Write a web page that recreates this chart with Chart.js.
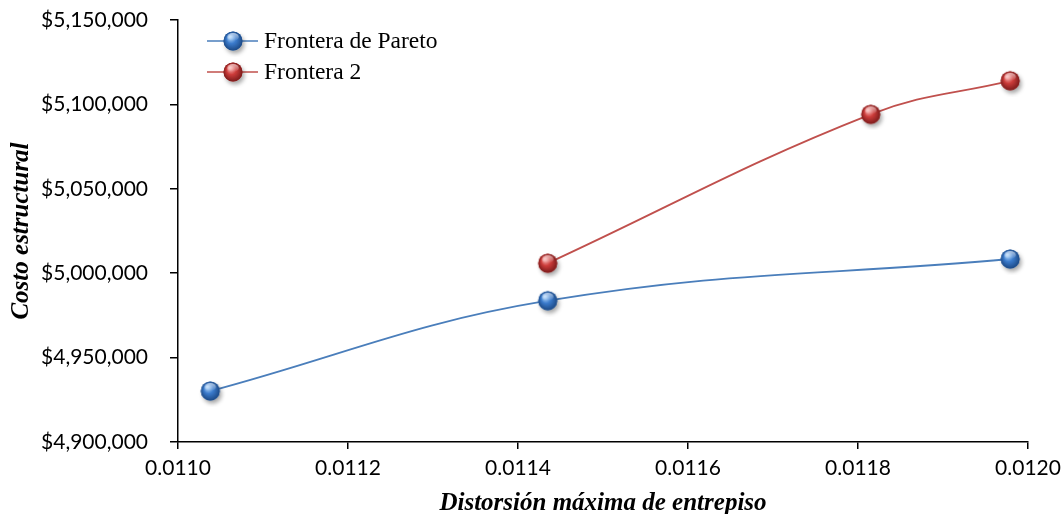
<!DOCTYPE html>
<html>
<head>
<meta charset="utf-8">
<script src="https://cdn.jsdelivr.net/npm/chart.js@4.4.1/dist/chart.umd.min.js"></script>
<style>
  html, body { margin: 0; padding: 0; background: #fff; }
  #wrap { width: 1061px; height: 514px; }
</style>
</head>
<body>
<div id="wrap"><canvas id="fronteraChart" width="1061" height="514"></canvas></div>
<script>
// Distorsión máxima de entrepiso (eje X) y costo estructural (eje Y)
const paretoDrift = [0.011038, 0.011435, 0.011979];
const paretoCost = [4930200, 4983700, 5008400];
const frontera2Drift = [0.011435, 0.011815, 0.011979];
const frontera2Cost = [5005900, 5094100, 5114000];

const xTicks = [0.0110, 0.0112, 0.0114, 0.0116, 0.0118, 0.0120];
const yTicks = [4900000, 4950000, 5000000, 5050000, 5100000, 5150000];

const seriesNames = ['Frontera de Pareto', 'Frontera 2'];

const tickFont = 'Lato, "Open Sans", sans-serif';
const serifFont = '"Liberation Serif", "Times New Roman", serif';

// esfera con brillo y sombra para los marcadores
function makeSphere(light, base, dark) {
    const c = document.createElement('canvas');
    c.width = 32; c.height = 32;
    const g = c.getContext('2d');
    const cx = 16, cy = 16, r = 9.5;
    g.save();
    g.shadowColor = 'rgba(0,0,0,0.35)';
    g.shadowBlur = 4;
    g.shadowOffsetX = 2;
    g.shadowOffsetY = 3;
    g.beginPath();
    g.arc(cx, cy, r, 0, Math.PI * 2);
    g.fillStyle = base;
    g.fill();
    g.restore();
    const grad = g.createRadialGradient(cx - 3, cy - 4, 1, cx, cy, r);
    grad.addColorStop(0, light);
    grad.addColorStop(0.45, base);
    grad.addColorStop(1, dark);
    g.beginPath();
    g.arc(cx, cy, r, 0, Math.PI * 2);
    g.fillStyle = grad;
    g.fill();
    // reflejo superior
    const hl = g.createLinearGradient(0, cy - r, 0, cy);
    hl.addColorStop(0, 'rgba(255,255,255,0.75)');
    hl.addColorStop(1, 'rgba(255,255,255,0)');
    g.beginPath();
    g.ellipse(cx, cy - 4, 5.8, 4, 0, 0, Math.PI * 2);
    g.fillStyle = hl;
    g.fill();
    return c;
}

const blueSphere = makeSphere('#a9d0f7', '#3b7bcc', '#1c4985');
const redSphere = makeSphere('#f6aaa8', '#cc3c3a', '#7c1b1b');

function toPoints(xs, ys) {
    return xs.map((x, i) => ({ x: x, y: ys[i] }));
}

// leyenda dentro del área de trazado
const insideLegend = {
    id: 'insideLegend',
    afterDraw(chart) {
        const ctx = chart.ctx;
        const rows = [
            { y: 41, color: '#4a7ebb', img: blueSphere },
            { y: 72, color: '#c0504d', img: redSphere }
        ];
        ctx.save();
        ctx.font = '23.5px ' + serifFont;
        ctx.textBaseline = 'middle';
        ctx.fillStyle = '#000';
        rows.forEach((r, i) => {
            ctx.strokeStyle = r.color;
            ctx.lineWidth = 1.6;
            ctx.beginPath();
            ctx.moveTo(207, r.y);
            ctx.lineTo(258, r.y);
            ctx.stroke();
            ctx.drawImage(r.img, 233 - 16, r.y - 16);
            ctx.fillText(seriesNames[i], 264, r.y + 1);
        });
        ctx.restore();
    }
};

const ctx = document.getElementById('fronteraChart').getContext('2d');
new Chart(ctx, {
    type: 'line',
    data: {
        datasets: [{
            label: seriesNames[0],
            data: toPoints(paretoDrift, paretoCost),
            borderColor: '#4a7ebb',
            borderWidth: 1.8,
            tension: 0.4,
            pointStyle: blueSphere,
            pointRadius: 10,
            fill: false
        }, {
            label: seriesNames[1],
            data: toPoints(frontera2Drift, frontera2Cost),
            borderColor: '#c0504d',
            borderWidth: 1.8,
            tension: 0.4,
            pointStyle: redSphere,
            pointRadius: 10,
            fill: false
        }]
    },
    options: {
        responsive: false,
        animation: false,
        layout: { padding: { top: 20, right: 33, left: 0, bottom: 0 } },
        plugins: {
            legend: { display: false },
            tooltip: { enabled: false }
        },
        scales: {
            x: {
                type: 'linear',
                min: xTicks[0],
                max: xTicks[xTicks.length - 1],
                afterBuildTicks: (s) => { s.ticks = xTicks.map(v => ({ value: v })); },
                afterFit: (s) => { s.height = 72; s.paddingLeft = 0; s.paddingRight = 0; },
                border: { color: '#000', width: 1.5 },
                grid: { display: true, drawOnChartArea: false, drawTicks: true, tickLength: 7, color: '#000', lineWidth: 1.5 },
                ticks: {
                    color: '#000',
                    padding: 7,
                    font: { family: tickFont, size: 21 },
                    callback: (v) => Number(v).toFixed(4)
                },
                title: {
                    display: true,
                    text: 'Distorsión máxima de entrepiso',
                    color: '#000',
                    font: { family: serifFont, size: 25, style: 'italic', weight: 'bold' },
                    padding: { top: 0, bottom: -5 }
                }
            },
            y: {
                type: 'linear',
                min: yTicks[0],
                max: yTicks[yTicks.length - 1],
                afterBuildTicks: (s) => { s.ticks = yTicks.map(v => ({ value: v })); },
                afterFit: (s) => { s.width = 178; s.paddingTop = 0; s.paddingBottom = 0; },
                border: { color: '#000', width: 1.5 },
                grid: { display: true, drawOnChartArea: false, drawTicks: true, tickLength: 8, color: '#000', lineWidth: 1.5 },
                ticks: {
                    color: '#000',
                    padding: 22,
                    font: { family: tickFont, size: 21 },
                    callback: (v) => '$' + Number(v).toLocaleString('en-US')
                },
                title: {
                    display: true,
                    text: 'Costo estructural',
                    color: '#000',
                    font: { family: serifFont, size: 25, style: 'italic', weight: 'bold' },
                    padding: { top: 7, bottom: 0 }
                }
            }
        }
    },
    plugins: [insideLegend]
});
</script>
</body>
</html>
